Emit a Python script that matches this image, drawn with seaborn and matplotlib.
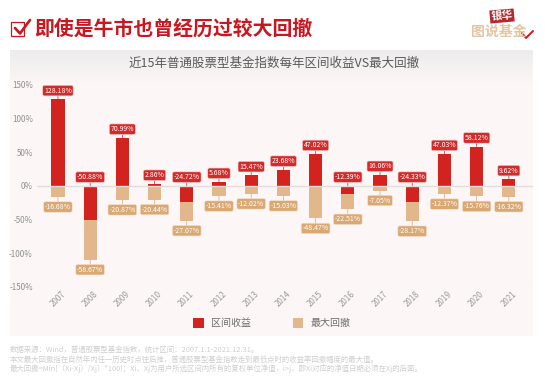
import numpy as np
import pandas as pd
import matplotlib
matplotlib.use('Agg')
import matplotlib.pyplot as plt
from matplotlib.patches import Rectangle
import seaborn as sns

years = ['2007', '2008', '2009', '2010', '2011', '2012', '2013', '2014',
         '2015', '2016', '2017', '2018', '2019', '2020', '2021']
returns = [128.18, -50.88, 70.99, 2.86, -24.72, 5.68, 15.47, 23.68,
           47.02, -12.39, 16.06, -24.33, 47.03, 58.12, 9.62]
drawdowns = [-16.68, -58.67, -20.87, -20.44, -27.07, -15.41, -12.02, -15.03,
             -48.47, -22.51, -7.05, -28.17, -12.37, -15.76, -16.32]
yticks = [-150, -100, -50, 0, 50, 100, 150]
title = '即使是牛市也曾经历过较大回撤'
subtitle = '近15年普通股票型基金指数每年区间收益VS最大回撤'
notes = [
    '数据来源：Wind，普通股票型基金指数，统计区间：2007.1.1-2021.12.31。',
    '本文最大回撤指在自然年内任一历史时点往后推，普通股票型基金指数走到最低点时的收益率回撤幅度的最大值。',
    '最大回撤=Min[（Xi-Xj）/Xj）*100]；Xi、Xj为用户所选区间内所有的复权单位净值，i>j，即Xi对应的净值日期必须在Xj的后面。',
]

RED = '#d3231f'
TAN = '#e2b78c'
TAN_DARK = '#d9a873'
W, H = 545, 378

sns.set_theme(style='white')
plt.rcParams['font.family'] = ['Noto Sans CJK SC', 'DejaVu Sans']

df = pd.DataFrame({'year': years, 'ret': returns, 'dd': drawdowns})
# a losing year stacks the drawdown under the red bar
df['dd_base'] = df['ret'].clip(upper=0)

fig = plt.figure(figsize=(W / 100, H / 100), dpi=100, facecolor='white')


def px_axes(x0, y0, x1, y1, **kw):
    return fig.add_axes([x0 / W, 1 - y1 / H, (x1 - x0) / W, (y1 - y0) / H], **kw)


# panel background, grey at the top fading into pale pink
bg = px_axes(10, 50, 533, 336)
top = np.array([0.93, 0.925, 0.925])
low = np.array([0.992, 0.968, 0.965])
mix = np.clip(np.linspace(0, 1, 286) / 0.12, 0, 1)[:, None, None]
grad = top * (1 - mix) + low * mix
bg.imshow(grad, aspect='auto')
bg.axis('off')

ax = px_axes(37, 84.5, 533, 287)
ax.patch.set_alpha(0)
sns.barplot(data=df, x='year', y='ret', color=RED, saturation=1, width=0.41,
            linewidth=0, ax=ax, label='区间收益', legend=False)
sns.barplot(data=df, x='year', y='dd', color=TAN, saturation=1, width=0.41,
            linewidth=0, bottom=df['dd_base'].values, ax=ax, label='最大回撤', legend=False)
ax.set_xlim(-0.65, 14.75)
ax.set_ylim(-150, 150)
ax.set_xlabel('')
ax.set_ylabel('')
ax.set_yticks(yticks)
ax.set_yticklabels([f'{v}%' for v in yticks], fontsize=5.8, color='#8f8f8f')
ax.tick_params(axis='y', length=0, pad=3)
ax.tick_params(axis='x', length=0, pad=2)
plt.setp(ax.get_xticklabels(), rotation=45, fontsize=5.8, color='#9a9a9a', ha='center')
sns.despine(ax=ax, left=True, bottom=True, top=True, right=True)
ax.axhline(0, color='#e2dcdc', lw=1, zorder=5)
ax.axhline(-150, color='#f3ecec', lw=0.8, zorder=0)

for i, row in df.iterrows():
    # red tag always above the positive part, tan tag under the stack
    ax.annotate(f'{row.ret:.2f}%', (i, max(row.ret, 0)), xytext=(0, 6.2),
                textcoords='offset points', ha='center', va='center',
                fontsize=5, color='white', zorder=8,
                arrowprops=dict(arrowstyle='-', color='#d12b2b', lw=0.5, shrinkA=0, shrinkB=0),
                bbox=dict(boxstyle='round,pad=0.18,rounding_size=0.25', fc='#d12b2b',
                          ec='#f3c9c5', lw=0.4))
    ax.annotate(f'{row.dd:.2f}%', (i, row.dd_base + row.dd), xytext=(0, -7.2),
                textcoords='offset points', ha='center', va='center',
                fontsize=5, color='white', zorder=8,
                arrowprops=dict(arrowstyle='-', color=TAN_DARK, lw=0.5, shrinkA=0, shrinkB=0),
                bbox=dict(boxstyle='round,pad=0.18,rounding_size=0.25', fc=TAN_DARK,
                          ec='#f3e3d2', lw=0.4))

handles, labels = ax.get_legend_handles_labels()
leg = fig.legend(handles[:2], labels[:2], loc='center', ncol=2, frameon=False,
                 bbox_to_anchor=(272 / W, 1 - 323 / H), fontsize=7.2,
                 handlelength=1.05, handleheight=1.25, handletextpad=0.8,
                 columnspacing=4.1, labelcolor='#6e6e6e')

# page header
fig.text(34.5 / W, 1 - 28.5 / H, title, fontsize=14.3, fontweight='bold', color='#c9161f',
         ha='left', va='center')
fig.text(274 / W, 1 - 63.5 / H, subtitle, fontsize=9, color='#5a5a5a',
         ha='center', va='center')

# check box icon
fig.add_artist(Rectangle((10.7 / W, 1 - 36 / H), 13.5 / W, 14 / H, fill=False,
                         ec='#c9161f', lw=0.9, transform=fig.transFigure))
fig.add_artist(plt.Line2D([15 / W, 20 / W, 30 / W],
                          [1 - 28 / H, 1 - 33.5 / H, 1 - 20 / H],
                          color='#c9161f', lw=1.9, transform=fig.transFigure))

# logo
fig.text(502 / W, 1 - 16 / H, '银华', fontsize=7.8, fontweight='bold', color='white',
         ha='center', va='center', rotation=5, zorder=6,
         bbox=dict(boxstyle='square,pad=0.12', fc='#b5282c', ec='none'))
fig.text(499 / W, 1 - 31.5 / H, '图说基金', fontsize=10, fontweight='bold', color='#e3c6a4',
         ha='center', va='center')
fig.add_artist(plt.Line2D([522 / W, 526 / W, 533 / W],
                          [1 - 33 / H, 1 - 38 / H, 1 - 31 / H],
                          color='#c9161f', lw=1.4, transform=fig.transFigure))

# footnotes
for y, note in zip([350, 359.5, 369], notes):
    fig.text(10 / W, 1 - y / H, note, fontsize=5.35, color='#cfcfcf', ha='left', va='center')

fig.savefig('out.png', dpi=100)
plt.close(fig)
